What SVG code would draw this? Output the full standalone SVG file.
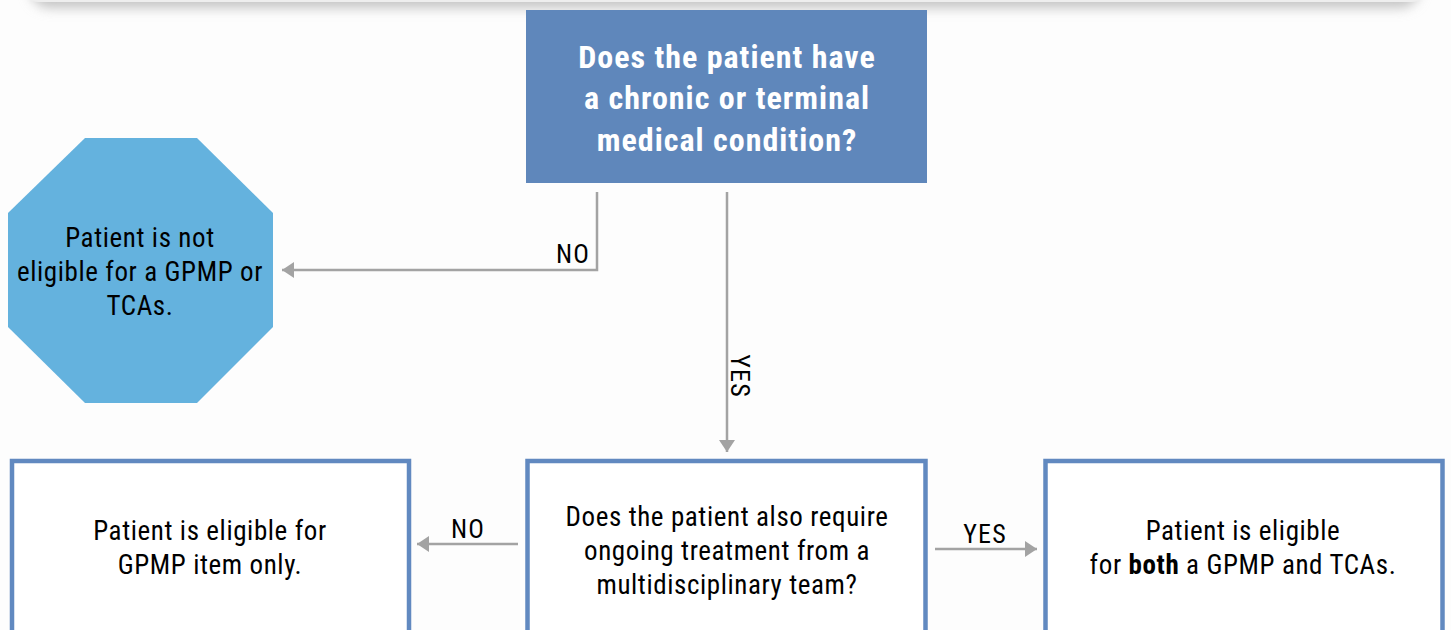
<svg xmlns="http://www.w3.org/2000/svg" width="1451" height="630" viewBox="0 0 1451 630">
<defs>
<filter id="sh" x="-5%" y="-50%" width="110%" height="200%"><feGaussianBlur stdDeviation="6"/></filter>
<marker id="ah" viewBox="0 0 12 16" refX="12" refY="8" markerWidth="12" markerHeight="16" markerUnits="userSpaceOnUse" orient="auto"><path d="M0,0 L12,8 L0,16 Z" fill="#a3a3a3"/></marker>
</defs>
<style>
.t{font-family:"Roboto Condensed","Liberation Sans Narrow","DejaVu Sans Condensed","Liberation Sans",sans-serif;font-size:27px;font-weight:400;letter-spacing:0.6px;fill:#000;text-anchor:middle}
.w{fill:#fff;font-weight:bold;font-size:32px;letter-spacing:1px}
.lb{font-size:26px;letter-spacing:1.2px}
.box{fill:#fff;stroke:#6189c0;stroke-width:4.5}
.c{fill:none;stroke:#a3a3a3;stroke-width:2.5}
</style>
<rect width="1451" height="630" fill="#fdfdfd"/>
<rect x="30" y="-40" width="1390" height="48" rx="20" fill="#c4c4c4" filter="url(#sh)"/>
<rect x="20" y="-40" width="1410" height="42" rx="18" fill="#eeeeee"/>
<g id="q1">
<rect x="526" y="10" width="401" height="173" fill="#5f87bb"/>
<text class="t w" x="727" y="68">Does the patient have</text>
<text class="t w" x="727" y="109">a chronic or terminal</text>
<text class="t w" x="727" y="151">medical condition?</text>
</g>
<g id="stop">
<polygon points="85,138 197,138 273,213 273,327 197,403 85,403 8,327 8,213" fill="#64b2de"/>
<text class="t" x="140" y="247">Patient is not</text>
<text class="t" x="140" y="281">eligible for a GPMP or</text>
<text class="t" x="140" y="315">TCAs.</text>
</g>
<g id="gpmp">
<rect class="box" x="12" y="461" width="397" height="190"/>
<text class="t" x="210" y="540">Patient is eligible for</text>
<text class="t" x="210" y="574">GPMP item only.</text>
</g>
<g id="q2">
<rect class="box" x="527.5" y="461" width="398" height="190"/>
<text class="t" x="727" y="526">Does the patient also require</text>
<text class="t" x="727" y="560">ongoing treatment from a</text>
<text class="t" x="727" y="594">multidisciplinary team?</text>
</g>
<g id="both">
<rect class="box" x="1045.5" y="461" width="397" height="190"/>
<text class="t" x="1243" y="540">Patient is eligible</text>
<text class="t" x="1243" y="574">for <tspan font-weight="bold">both</tspan> a GPMP and TCAs.</text>
</g>
<g id="connectors">
<polyline class="c" points="597,192 597,270 282,270" marker-end="url(#ah)"/>
<text class="t lb" x="573" y="263">NO</text>
<line class="c" x1="727" y1="192" x2="727" y2="452" marker-end="url(#ah)"/>
<text class="t lb" transform="translate(731,376) rotate(90)">YES</text>
<line class="c" x1="518" y1="544" x2="417" y2="544" marker-end="url(#ah)"/>
<text class="t lb" x="468" y="538">NO</text>
<line class="c" x1="935" y1="549" x2="1037" y2="549" marker-end="url(#ah)"/>
<text class="t lb" x="985" y="543">YES</text>
</g>
</svg>
